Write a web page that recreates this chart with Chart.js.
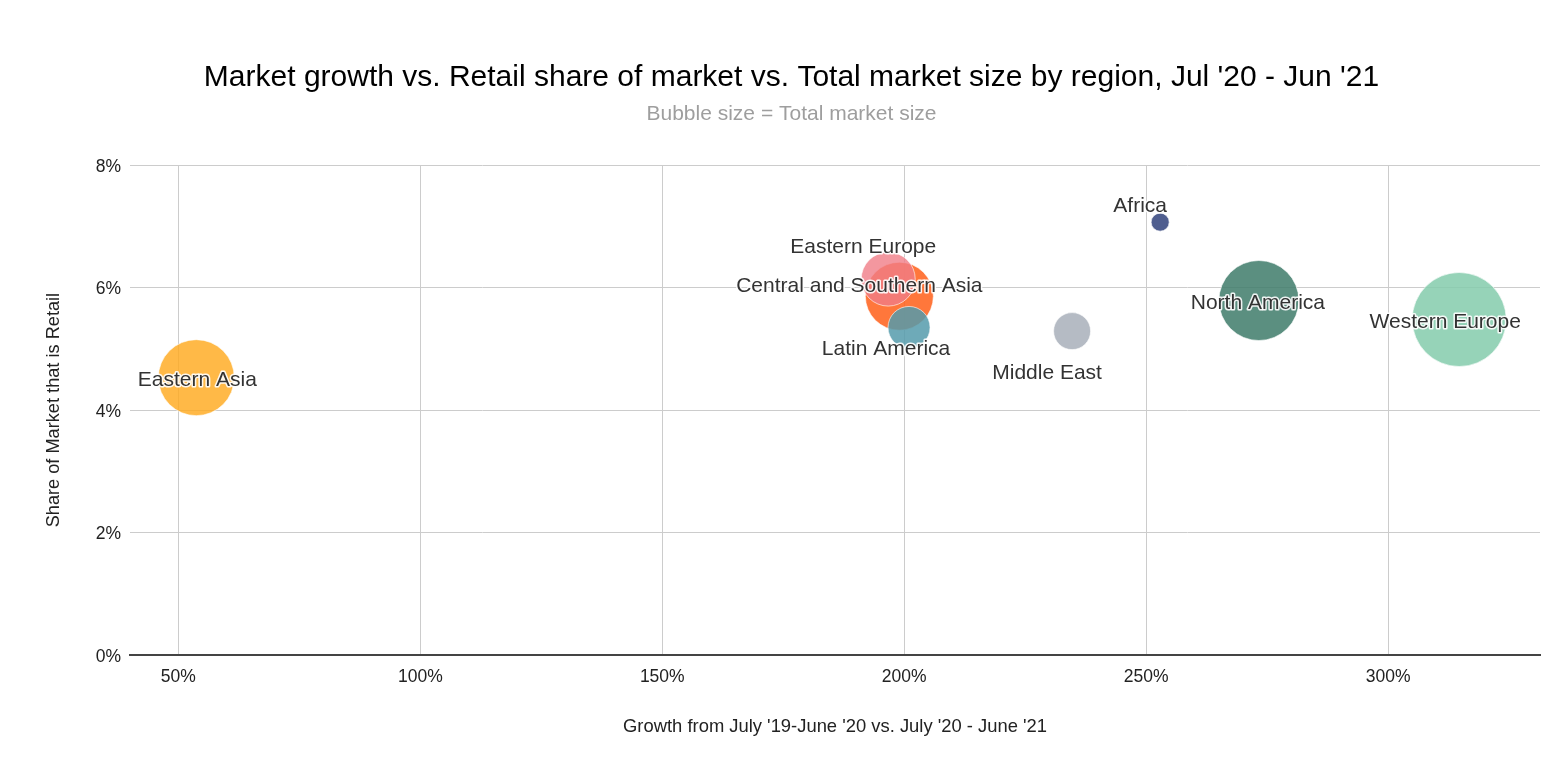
<!DOCTYPE html>
<html>
<head>
<meta charset="utf-8">
<title>Market growth vs. Retail share</title>
<script src="https://cdn.jsdelivr.net/npm/chart.js@4.4.1/dist/chart.umd.min.js"></script>
<style>
    html, body { margin: 0; padding: 0; background: #fff; overflow: hidden; }
    #wrap { width: 1567px; height: 772px; }
    canvas { display: block; }
</style>
</head>
<body>
<div id="wrap"><canvas id="chart" width="1567" height="772"></canvas></div>
<script>
/* Values. Bubbles are listed largest first, the way the original stacks them. */
const regions = ["Western Europe", "North America", "Eastern Asia", "Central and Southern Asia",
                 "Eastern Europe", "Latin America", "Middle East", "Africa"];
const growth = [314.7, 273.3, 53.7, 199.0, 196.7, 201.0, 234.7, 252.9]; // % growth
const retailShare = [5.48, 5.79, 4.53, 5.86, 6.14, 5.35, 5.29, 7.07]; // % of market that is retail
const bubbleSize = [47, 40, 38, 34, 27, 21, 18.5, 9]; // relative total market size (bubble radius)

const xTicks = [50, 100, 150, 200, 250, 300];
const yTicks = [0, 2, 4, 6, 8];

/* Styles */
const colors = [
    "rgba(132, 203, 172, 0.85)",
    "rgba(62, 123, 106, 0.85)",
    "rgba(255, 170, 30, 0.82)",
    "rgba(255, 95, 25, 0.85)",
    "rgba(240, 125, 135, 0.8)",
    "rgba(85, 155, 172, 0.85)",
    "rgba(168, 175, 186, 0.85)",
    "rgba(55, 72, 128, 0.88)"
];
// where each label sits relative to its bubble centre (px)
const labelShift = [[-14, 3], [-1, 3], [1, 3], [-40, -10], [-25, -32], [-23, 22], [-25, 42], [-20, -16]];

const FONT = "'Liberation Sans', Arial, sans-serif";

const bubbleLabels = {
    id: "bubbleLabels",
    afterDatasetsDraw(chart){
        const ctx = chart.ctx;
        const meta = chart.getDatasetMeta(0);
        ctx.save();
        ctx.font = "21px " + FONT;
        ctx.textAlign = "center";
        ctx.textBaseline = "middle";
        ctx.lineJoin = "round";
        meta.data.forEach((el, i) => {
            const x = el.x + labelShift[i][0];
            const y = el.y + labelShift[i][1];
            ctx.strokeStyle = "rgba(255,255,255,0.9)";
            ctx.lineWidth = 3;
            ctx.strokeText(regions[i], x, y);
            ctx.fillStyle = "#333";
            ctx.fillText(regions[i], x, y);
        });
        ctx.restore();
    }
};

const ctx = document.getElementById("chart").getContext("2d");

new Chart(ctx, {
    type: "bubble",
    data: {
        datasets: [{
            label: "Regions",
            data: regions.map((r, i) => ({x: growth[i], y: retailShare[i], r: bubbleSize[i]})),
            backgroundColor: colors,
            borderColor: "rgba(255,255,255,0.6)",
            borderWidth: 1
        }]
    },
    options: {
        responsive: false,
        animation: false,
        devicePixelRatio: 1,
        layout: {
            autoPadding: false, // the big bubbles would otherwise push the plot in by their radius
            padding: {left: 16, right: 0, top: 0, bottom: 0}
        },
        plugins: {
            legend: {display: false},
            tooltip: {enabled: false},
            title: {
                display: true,
                text: "Market growth vs. Retail share of market vs. Total market size by region, Jul '20 - Jun '21",
                color: "#000",
                font: {family: FONT, size: 30, weight: "normal"},
                padding: {top: 60, bottom: 6}
            },
            subtitle: {
                display: true,
                text: "Bubble size = Total market size",
                color: "#9e9e9e",
                font: {family: FONT, size: 21, weight: "normal"},
                padding: {top: 0, bottom: 38}
            }
        },
        scales: {
            x: {
                type: "linear",
                min: 40,
                max: 331.4,
                afterBuildTicks: (scale) => {
                    scale.ticks = xTicks.map(v => ({value: v}));
                },
                afterFit: (scale) => {
                    scale.height = 117;
                    scale.paddingLeft = 0;
                    scale.paddingRight = 27;
                },
                grid: {color: "#cccccc", lineWidth: 1, drawTicks: false},
                border: {display: true, color: "#444", width: 2},
                ticks: {
                    color: "#222",
                    font: {family: FONT, size: 17.5},
                    padding: 12,
                    callback: (v) => v + "%"
                },
                title: {
                    display: true,
                    text: "Growth from July '19-June '20 vs. July '20 - June '21",
                    color: "#222",
                    font: {family: FONT, size: 18.4},
                    padding: {top: 0, bottom: 34}
                }
            },
            y: {
                type: "linear",
                min: 0,
                max: 8,
                afterBuildTicks: (scale) => {
                    scale.ticks = yTicks.map(v => ({value: v}));
                },
                afterFit: (scale) => { scale.width = 114; },
                grid: {color: "#cccccc", lineWidth: 1, drawTicks: false},
                border: {display: false},
                ticks: {
                    color: "#222",
                    font: {family: FONT, size: 17.5},
                    padding: 9,
                    labelOffset: 2,
                    callback: (v) => v + "%"
                },
                title: {
                    display: true,
                    text: "Share of Market that is Retail",
                    color: "#222",
                    font: {family: FONT, size: 18.2},
                    padding: {top: 27, bottom: 0}
                }
            }
        }
    },
    plugins: [bubbleLabels]
});
</script>
</body>
</html>
